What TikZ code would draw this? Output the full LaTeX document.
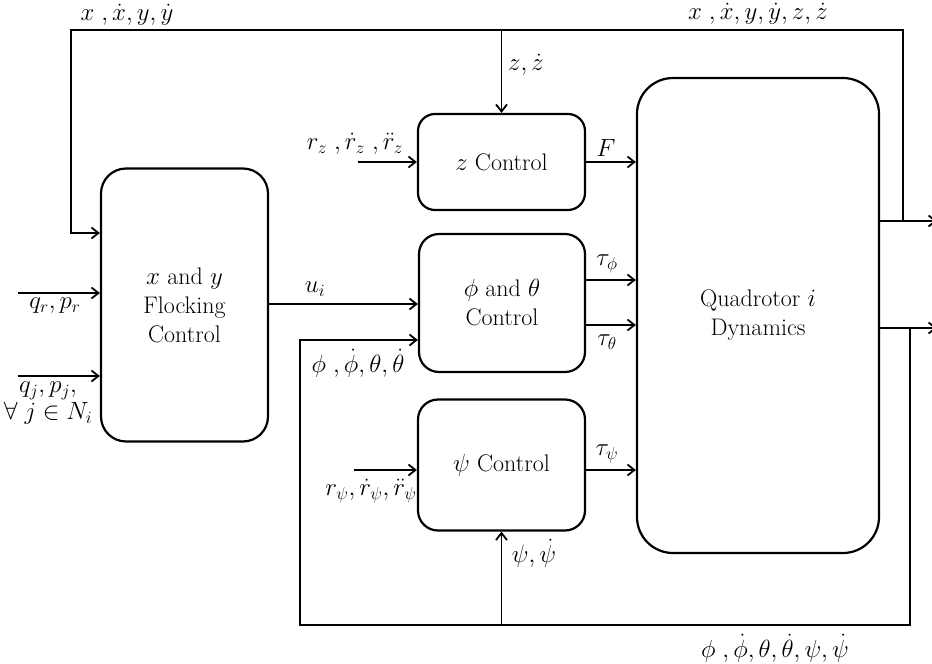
\documentclass[tikz,border=0pt]{standalone}
\usetikzlibrary{arrows.meta}

\begin{document}
\begin{tikzpicture}[x=1pt,y=-1pt,
  font=\rmfamily\fontsize{24}{29}\selectfont,
  blk/.style={draw, line width=2.2pt, rounded corners=#1, inner sep=0pt, align=center},
  wire/.style={line width=1.8pt},
  arr/.style={wire, -{Straight Barb[length=7pt,width=11pt]}},
  lbl/.style={inner sep=0pt, align=center, font=\rmfamily\fontsize{23}{27}\selectfont}]
\useasboundingbox (0,0) rectangle (932,664);
\clip (0,0) rectangle (932,664);

% blocks
\node[blk=25pt, minimum width=167pt, minimum height=273pt] (flock) at (184.5,305) {$x$ and $y$\\Flocking\\Control};
\node[blk=17pt, minimum width=167pt, minimum height=96pt] (zc) at (501.5,162) {$z$ Control};
\node[blk=20pt, minimum width=166pt, minimum height=138pt] (pt) at (502,303) {$\phi$ and $\theta$\\Control};
\node[blk=20pt, minimum width=167pt, minimum height=131pt] (psi) at (501.5,465) {$\psi$ Control};
\node[blk=36pt, minimum width=242pt, minimum height=475pt] (quad) at (758,315.5) {Quadrotor $i$\\Dynamics};

% routing points
\coordinate (fbTopL) at (71,30);
\coordinate (fbTopR) at (903,30);
\coordinate (fbBotL) at (300,625);
\coordinate (fbBotR) at (910,625);
\coordinate (outA) at (937,221);
\coordinate (outB) at (937,328);
\coordinate (inFb) at (0,233);
\coordinate (inPt) at (0,340);
\coordinate (qr) at (18,293);
\coordinate (qj) at (18,376);
\coordinate (ui) at (0,304);
\coordinate (rz) at (358,162);
\coordinate (tphi) at (0,280);
\coordinate (ttheta) at (0,325);
\coordinate (tpsi) at (0,470);
\coordinate (rpsi) at (354,470);

% outputs and feedback loops
\draw[arr] (quad.east |- outA) -- (outA);
\draw[arr] (quad.east |- outB) -- (outB);
\draw[arr] (fbTopR |- outA) -- (fbTopR) -- (fbTopL) |- (flock.west |- inFb);
\draw[arr] (zc.north |- fbTopL) -- (zc.north);
\draw[arr] (fbBotR |- outB) -- (fbBotR) -- (fbBotL) |- (pt.west |- inPt);
\draw[arr] (psi.south |- fbBotL) -- (psi.south);

% inputs
\draw[arr] (qr) -- (flock.west |- qr);
\draw[arr] (qj) -- (flock.west |- qj);
\draw[arr] (flock.east |- ui) -- (pt.west |- ui);
\draw[arr] (rz) -- (zc.west);
\draw[arr] (rpsi) -- (psi.west |- tpsi);

% control signals
\draw[arr] (zc.east) -- (quad.west |- zc.east);
\draw[arr] (pt.east |- tphi) -- (quad.west |- tphi);
\draw[arr] (pt.east |- ttheta) -- (quad.west |- ttheta);
\draw[arr] (psi.east |- tpsi) -- (quad.west |- tpsi);

% signal labels
\node[lbl] (lxy) at (127,15) {$x\ ,\dot{x}, y, \dot{y}$};
\node[lbl] (lxyz) at (758,14) {$x\ ,\dot{x}, y, \dot{y}, z, \dot{z}$};
\node[lbl] (lz) at (526,65) {$z, \dot{z}$};
\node[lbl] (lrz) at (355,144) {$r_z\ ,\dot{r}_z\ ,\ddot{r}_z$};
\node[lbl] (lF) at (606,148) {$F$};
\node[lbl] (lui) at (315,289) {$u_i$};
\node[lbl] (ltphi) at (607,264) {$\tau_\phi$};
\node[lbl] (lttheta) at (607,342) {$\tau_\theta$};
\node[lbl] (ltpsi) at (607,454) {$\tau_\psi$};
\node[lbl] (lpt) at (358,363) {$\phi\ ,\dot{\phi}, \theta, \dot{\theta}$};
\node[lbl] (lrpsi) at (371,491) {$r_\psi, \dot{r}_\psi, \ddot{r}_\psi$};
\node[lbl] (lpsi) at (534,553) {$\psi, \dot{\psi}$};
\node[lbl] (lang) at (775,648) {$\phi\ ,\dot{\phi}, \theta, \dot{\theta}, \psi, \dot{\psi}$};
\node[lbl] (lqr) at (55,306) {$q_r, p_r$};
\node[lbl] (lqj) at (48,403) {$q_j, p_j,$\\$\forall\ j \in N_i$};
\end{tikzpicture}
\end{document}
